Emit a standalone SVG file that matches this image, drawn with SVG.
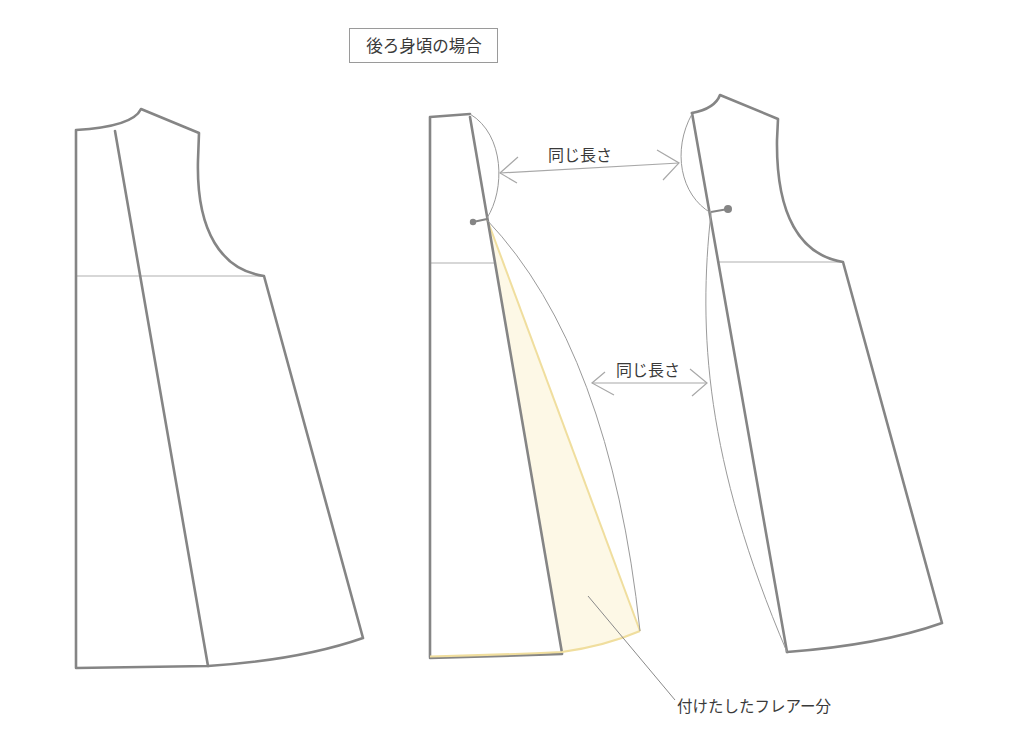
<svg xmlns="http://www.w3.org/2000/svg" width="1024" height="735" viewBox="0 0 1024 735">
<style>
.thick{fill:none;stroke:#858585;stroke-width:2.6;stroke-linecap:round;stroke-linejoin:round}
.thin{fill:none;stroke:#9a9a9a;stroke-width:1}
.chest{fill:none;stroke:#b0b0b0;stroke-width:1.2}
.arr{fill:none;stroke:#a8a8a8;stroke-width:1.2}
.lbl{font-family:"Noto Sans CJK JP","Noto Sans",sans-serif;fill:#3a3a3a}
</style>
<rect width="1024" height="735" fill="#ffffff"/>
<g id="title">
<rect x="349.5" y="28.5" width="148" height="34" fill="#fff" stroke="#9a9a9a" stroke-width="1"/>
<text class="lbl" x="424" y="51.5" font-size="16.5" text-anchor="middle">後ろ身頃の場合</text>
</g>
<g id="left-piece">
<line class="chest" x1="76" y1="276" x2="264" y2="276"/>
<path class="thick" d="M76,668 L76,130 C110,128 135,122 141,109 L199,133 L198,160 C196,232 222,270 264,276 L363,638 Q300,660 208,666 L76,668"/>
<line class="thick" x1="115" y1="131" x2="208" y2="666"/>
</g>
<g id="middle-piece">
<path d="M487,219 L562,652 Q605,646 640,631 Z" fill="#fdf8e6" stroke="none"/>
<line x1="487" y1="219" x2="640" y2="631" stroke="#f0de9e" stroke-width="2"/>
<line class="chest" x1="430" y1="263" x2="494" y2="263"/>
<path class="thick" d="M430,657 L430,117 L470,114"/>
<line class="thick" x1="470" y1="117" x2="562" y2="653"/>
<path class="thick" d="M430,658 L562,654"/>
<path d="M430,656.5 Q500,655 562,652 Q605,646 640,631" fill="none" stroke="#f0de9e" stroke-width="2.2"/>
<path class="thin" d="M470,114 C505,135 505,190 487,218"/>
<path class="thin" d="M487,220 Q610,350 640,631"/>
<line x1="473" y1="222" x2="487" y2="219" stroke="#858585" stroke-width="2"/>
<circle cx="473" cy="222" r="3.2" fill="#858585"/>
</g>
<g id="right-piece">
<line class="chest" x1="718" y1="262" x2="843" y2="262"/>
<path class="thick" d="M692,113 C708,110 717,103 720,95 L778,119 L777,140 C776,215 800,255 843,262 L942,623 Q880,645 787,652"/>
<line class="thick" x1="692" y1="113" x2="787" y2="652"/>
<path class="thin" d="M692,114 C672,150 680,195 711,213"/>
<path class="thin" d="M711,213 C698,330 705,460 787,652"/>
<line x1="711" y1="212" x2="728" y2="209" stroke="#858585" stroke-width="2"/>
<circle cx="728" cy="209" r="4" fill="#858585"/>
</g>
<g id="connectors">
<line class="arr" x1="500" y1="173" x2="679" y2="163"/>
<polyline class="arr" points="518,157 500,173 517,183"/>
<polyline class="arr" points="657,150 679,163 663,180"/>
<line class="arr" x1="592" y1="383" x2="707" y2="383"/>
<polyline class="arr" points="605,372 592,383 614,395"/>
<polyline class="arr" points="690,369 707,383 692,396"/>
<line x1="588" y1="596" x2="675" y2="700" stroke="#8a8a8a" stroke-width="1"/>
</g>
<g id="labels">
<text class="lbl" x="580" y="161" font-size="16" text-anchor="middle">同じ長さ</text>
<text class="lbl" x="648" y="376" font-size="16" text-anchor="middle">同じ長さ</text>
<text class="lbl" x="677" y="712" font-size="15.5">付けたしたフレアー分</text>
</g>
</svg>
